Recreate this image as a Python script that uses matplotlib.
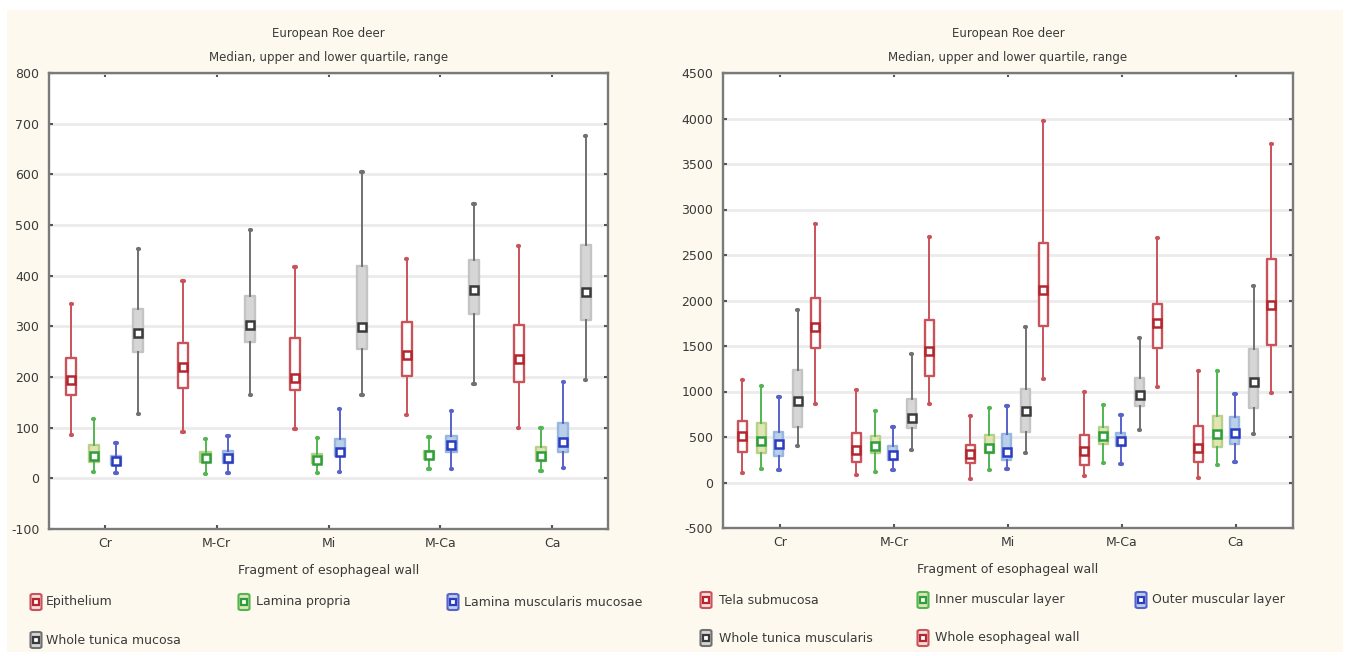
import numpy as np
import matplotlib
matplotlib.use("Agg")
import matplotlib.pyplot as plt
from matplotlib.patches import Rectangle, FancyBboxPatch
from matplotlib.lines import Line2D

# categories along the esophagus
fragments = ["Cr", "M-Cr", "Mi", "M-Ca", "Ca"]

# each entry: (min, lower quartile, median, upper quartile, max)
epithelium = [(85, 164, 195, 237, 345), (91, 178, 220, 268, 390), (97, 174, 198, 276, 417),
              (125, 201, 243, 309, 432), (100, 191, 235, 303, 458)]
lamina_propria = [(13, 32, 44, 66, 118), (8, 32, 41, 51, 77), (11, 30, 36, 49, 79),
                  (19, 38, 46, 54, 82), (14, 34, 45, 62, 100)]
lamina_musc_mucosae = [(10, 26, 34, 44, 70), (11, 31, 41, 53, 84), (13, 44, 51, 78, 136),
                       (18, 51, 66, 84, 132), (20, 51, 72, 110, 191)]
whole_tunica_mucosa = [(126, 250, 287, 334, 452), (164, 270, 303, 359, 490), (164, 255, 299, 419, 604),
                       (186, 324, 371, 431, 542), (194, 312, 367, 460, 675)]

tela_submucosa = [(99, 338, 515, 680, 1129), (81, 228, 357, 540, 1011), (37, 210, 309, 412, 735),
                  (74, 191, 349, 522, 1000), (51, 228, 375, 621, 1220)]
inner_muscular = [(147, 320, 456, 651, 1062), (118, 320, 404, 511, 787), (136, 327, 375, 522, 823),
                  (210, 423, 511, 614, 853), (191, 393, 533, 735, 1228)]
outer_muscular = [(136, 294, 423, 559, 945), (136, 246, 301, 404, 614), (147, 246, 331, 529, 842),
                  (202, 404, 460, 548, 743), (228, 423, 548, 717, 974)]
whole_tunica_muscularis = [(404, 614, 901, 1231, 1893), (357, 596, 706, 915, 1415), (320, 559, 787, 1026, 1709),
                           (577, 842, 963, 1147, 1588), (529, 816, 1103, 1467, 2161)]
whole_wall = [(864, 1478, 1709, 2025, 2836), (864, 1165, 1441, 1790, 2694), (1140, 1717, 2117, 2635, 3971),
              (1048, 1478, 1753, 1960, 2683), (981, 1514, 1950, 2453, 3716)]

left_ticks = list(range(-100, 801, 100))
right_ticks = list(range(-500, 4501, 500))

# colour styles: whisker, box face, box edge, median marker
RED = ("#c9535b", "white", "#c9535b", "#b3262e")
GREEN = ("#52b552", "#dfe6b4", "#b9d08a", "#2f9e3a")
BLUE = ("#5862c9", "#b9cfea", "#98b6de", "#2b3cc0")
GREY = ("#707070", "#d6d6d6", "#c4c4c4", "#3a3a3a")

W, H = 1349, 656
TXT = "#3a3a3a"
plt.rcParams["font.family"] = ["DejaVu Sans"]
plt.rcParams["axes.unicode_minus"] = False

fig = plt.figure(figsize=(W / 100, H / 100), dpi=100, facecolor="white")
fig.add_artist(Rectangle((7 / W, 1 - 652 / H), (1343 - 7) / W, (652 - 10) / H,
                         transform=fig.transFigure, facecolor="#fdf9ee", edgecolor="none", zorder=-10))


def fx(px):
    return px / W


def fy(py):
    return 1 - py / H


def draw_series(ax, data, offset, width, style):
    wc, face, edge, mk = style
    stats = []
    for lo, q1, med, q3, hi in data:
        stats.append(dict(whislo=lo, q1=q1, med=med, q3=q3, whishi=hi, mean=med))
    pos = np.arange(len(data)) + offset
    ax.bxp(stats, positions=pos, widths=width, patch_artist=True, showfliers=False,
           showmeans=True, manage_ticks=False, capwidths=0.012,
           boxprops=dict(facecolor=face, edgecolor=edge, linewidth=1.7, joinstyle="round"),
           whiskerprops=dict(color=wc, linewidth=1.4),
           capprops=dict(color=wc, linewidth=3, solid_capstyle="round"),
           medianprops=dict(linewidth=0),
           meanprops=dict(marker="s", markerfacecolor="white", markeredgecolor=mk,
                          markersize=6, markeredgewidth=1.8))


def setup_axes(ax, ticks, ylim):
    ax.set_xlim(-0.5, 4.5)
    ax.set_ylim(*ylim)
    ax.set_yticks(ticks)
    ax.set_xticks(range(len(fragments)))
    ax.set_xticklabels(fragments)
    ax.set_axisbelow(True)
    ax.grid(axis="y", color="#ebebeb", linewidth=2)
    ax.grid(axis="x", visible=False)
    for s in ax.spines.values():
        s.set_color("#7a7a7a")
        s.set_linewidth(1.7)
    ax.tick_params(direction="in", length=3, width=1.5, color="#555555",
                   top=True, right=True, labelsize=9, labelcolor=TXT)
    ax.tick_params(axis="x", pad=6)
    ax.tick_params(axis="y", pad=7)
    ax.set_xlabel("Fragment of esophageal wall", fontsize=9, color=TXT, labelpad=10)


def titles(cx):
    fig.text(fx(cx), fy(33), "European Roe deer", ha="center", va="center", fontsize=8.5, color=TXT)
    fig.text(fx(cx), fy(57), "Median, upper and lower quartile, range", ha="center", va="center",
             fontsize=8.5, color=TXT)


def legend_item(cx, cy, tx, label, style):
    wc, face, edge, mk = style
    w, h = 11, 16
    fig.add_artist(FancyBboxPatch((fx(cx - w / 2), fy(cy + h / 2)), w / W, h / H,
                                  boxstyle="round,pad=0,rounding_size=0.002",
                                  transform=fig.transFigure, facecolor=face if face != "white" else "#f6dcdc",
                                  edgecolor=wc, linewidth=1.5))
    fig.add_artist(Line2D([fx(cx)], [fy(cy)], transform=fig.transFigure, marker="s",
                          markersize=5, markerfacecolor="white", markeredgecolor=mk, markeredgewidth=1.6))
    fig.text(fx(tx), fy(cy), label, ha="left", va="center", fontsize=9, color=TXT)


# left panel
axl = fig.add_axes([fx(49), fy(529), fx(608 - 49), (529 - 73) / H])
setup_axes(axl, left_ticks, (-100, 800))
for data, off, st in [(epithelium, -0.3, RED), (lamina_propria, -0.1, GREEN),
                      (lamina_musc_mucosae, 0.1, BLUE), (whole_tunica_mucosa, 0.3, GREY)]:
    draw_series(axl, data, off, 0.09, st)
titles((49 + 608) / 2)

# right panel
axr = fig.add_axes([fx(723), fy(528), fx(1293 - 723), (528 - 73) / H])
setup_axes(axr, right_ticks, (-500, 4500))
for data, off, st in [(tela_submucosa, -0.33, RED), (inner_muscular, -0.165, GREEN),
                      (outer_muscular, -0.01, BLUE), (whole_tunica_muscularis, 0.155, GREY),
                      (whole_wall, 0.31, RED)]:
    draw_series(axr, data, off, 0.08, st)
titles((723 + 1293) / 2)

# legends
legend_item(36, 602, 46, "Epithelium", RED)
legend_item(244, 602, 256, "Lamina propria", GREEN)
legend_item(453, 602, 464, "Lamina muscularis mucosae", BLUE)
legend_item(36, 640, 46, "Whole tunica mucosa", GREY)

legend_item(706, 600, 719, "Tela submucosa", RED)
legend_item(923, 600, 935, "Inner muscular layer", GREEN)
legend_item(1141, 600, 1152, "Outer muscular layer", BLUE)
legend_item(706, 638, 719, "Whole tunica muscularis", GREY)
legend_item(923, 638, 935, "Whole esophageal wall", RED)

fig.savefig("out.png", dpi=100, facecolor=fig.get_facecolor())
